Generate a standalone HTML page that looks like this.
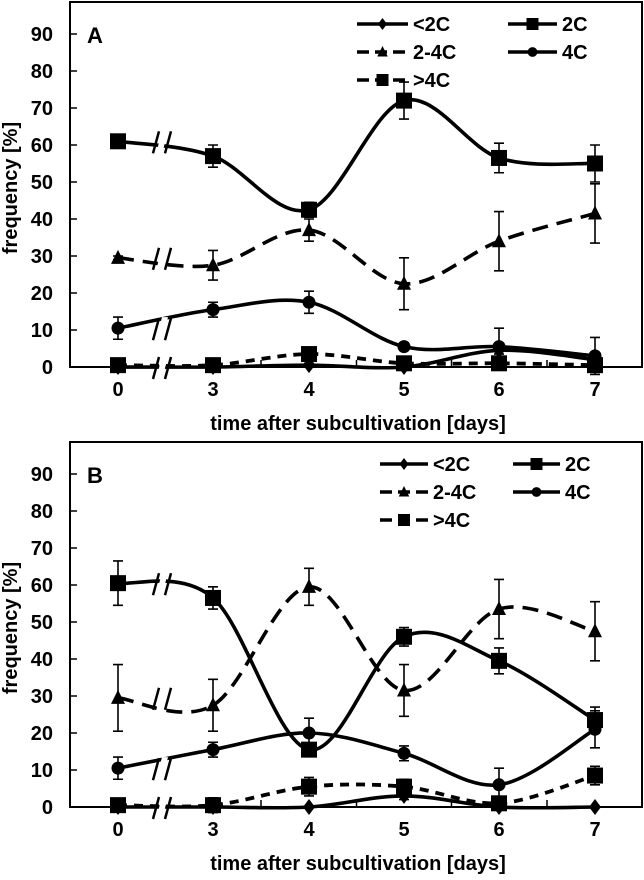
<!DOCTYPE html>
<html><head><meta charset="utf-8"><style>
body{margin:0;background:#fff;}
svg{display:block;font-family:"Liberation Sans",Arial,sans-serif;font-weight:bold;}
</style></head><body>
<svg id="chart" width="644" height="880" viewBox="0 0 644 880"></svg>
<script>
const days = [0,3,4,5,6,7];
const xTickLabels = ["0","3","4","5","6","7"];
const yTickLabels = [0,10,20,30,40,50,60,70,80,90];
const seriesNames = ["<2C","2C","2-4C","4C",">4C"];
// Panel A
const aLt2C = [0,0,0.5,0,4.5,2];
const aLt2CErr = [0,0,0.5,0.5,1,1];
const a2C = [61,57,42.5,72,56.5,55];
const a2CErr = [1.5,3,2,5,4,5];
const a24C = [29.5,27.5,37,22.5,34,41.5];
const a24CErr = [0.5,4,3,7,8,8];
const a4C = [10.5,15.5,17.5,5.5,5.5,3];
const a4CErr = [3,2,3,1,5,5];
const aGt4C = [0.5,0.5,3.5,1,1,0.5];
const aGt4CErr = [0,0,1,1,1,1];
// Panel B
const bLt2C = [0,0,0,3,0,0];
const bLt2CErr = [0,0,0,1,0,0];
const b2C = [60.5,56.5,15.5,46,39.5,23.5];
const b2CErr = [6,3,1,2.5,3.5,3.5];
const b24C = [29.5,27.5,59.5,31.5,53.5,47.5];
const b24CErr = [9,7,5,7,8,8];
const b4C = [10.5,15.5,20,14.5,6,21];
const b4CErr = [3,2,4,2,4.5,5];
const bGt4C = [0.5,0.5,5.5,5.5,1,8.5];
const bGt4CErr = [0,2,2.5,2,1,2.5];

const svg = document.getElementById('chart');
const NS = 'http://www.w3.org/2000/svg';
function mk(tag, attrs, parent){
  const e = document.createElementNS(NS, tag);
  for (const k in attrs) e.setAttribute(k, attrs[k]);
  (parent||svg).appendChild(e);
  return e;
}
const xPos = [118,213,309,404,499,595];
function xScale(i){ return xPos[i]; }

function panel(top, letter, data, legendCols){
  const zeroY = top + 367;
  const unit = 3.7;
  const y = v => zeroY - v*unit;
  const g = mk('g', {});
  
  
  const fr = mk('rect', {x:70, y:top+2, width:572, height:zeroY-top-2, fill:'none', stroke:'#000', 'stroke-width':2}, g);
  
  
  yTickLabels.forEach(v => {
    mk('line', {x1:70, x2:77, y1:y(v), y2:y(v), stroke:'#000', 'stroke-width':1.5}, g);
    const t = mk('text', {x:53, y:y(v)+7, 'text-anchor':'end', 'font-size':20}, g);
    t.textContent = v;
    
    
  });
  for (let i=0;i<days.length;i++){
    if (i>0 && i<days.length-1){
      const mx = (xScale(i)+xScale(i+1))/2;
      mk('line', {x1:mx, x2:mx, y1:zeroY, y2:zeroY-7, stroke:'#000', 'stroke-width':1.5}, g);
    }
    const t = mk('text', {x:xScale(i), y:zeroY+29, 'text-anchor':'middle', 'font-size':20}, g);
    t.textContent = xTickLabels[i];
    
    
  }
  const lt = mk('text', {x:87, y:top+43, 'font-size':22}, g);
  lt.textContent = letter;
  
  
  const xt = mk('text', {x:358, y:zeroY+63, 'text-anchor':'middle', 'font-size':20}, g);
  xt.textContent = 'time after subcultivation [days]';
  
  
  const yt = mk('text', {x:0, y:0, 'text-anchor':'middle', 'font-size':20, transform:`translate(17,${top+188}) rotate(-90)`}, g);
  yt.textContent = 'frequency [%]';
  
  

  const styles = [
    {m:'diamond', dash:''},
    {m:'square', dash:''},
    {m:'triangle', dash:'16,9'},
    {m:'circle', dash:''},
    {m:'square', dash:'9,7'}
  ];
  function marker(type, cx, cy, parent, s){
    s = s||1;
    if (type==='square') return mk('rect', {x:cx-8*s, y:cy-8*s, width:16*s, height:16*s, fill:'#000'}, parent);
    if (type==='circle') return mk('circle', {cx:cx, cy:cy, r:6.5*s, fill:'#000'}, parent);
    if (type==='triangle') return mk('polygon', {points:`${cx},${cy-8*s} ${cx+7*s},${cy+6*s} ${cx-7*s},${cy+6*s}`, fill:'#000'}, parent);
    return mk('polygon', {points:`${cx},${cy-8*s} ${cx+6*s},${cy} ${cx},${cy+8*s} ${cx-6*s},${cy}`, fill:'#000'}, parent);
  }
  function spline(pts){
    let d = `M${pts[0][0]},${pts[0][1]}`;
    for (let i=0;i<pts.length-1;i++){
      const p0 = pts[i-1]||pts[i], p1 = pts[i], p2 = pts[i+1], p3 = pts[i+2]||pts[i+1];
      const t = 1/3;
      const c1 = [p1[0]+(p2[0]-p0[0])*t/2, p1[1]+(p2[1]-p0[1])*t/2];
      const c2 = [p2[0]-(p3[0]-p1[0])*t/2, p2[1]-(p3[1]-p1[1])*t/2];
      d += ` C${c1[0]},${c1[1]} ${c2[0]},${c2[1]} ${p2[0]},${p2[1]}`;
    }
    return d;
  }
  const order = [4,0,3,2,1];
  order.forEach(si => {
    const vals = data[si][0], errs = data[si][1];
    const sg = mk('g', {}, g);
    
    
    const pts = vals.map((v,i)=>[xScale(i), y(v)]);
    const p = mk('path', {d:spline(pts), fill:'none', stroke:'#000', 'stroke-width':si===4?3.8:3.6, 'stroke-dasharray':styles[si].dash}, sg);
    
    
    vals.forEach((v,i)=>{
      const e = errs[i];
      if (e>0.3){
        const cx = xScale(i);
        mk('path', {d:`M${cx},${y(v+e)}V${y(v-e)}M${cx-5},${y(v+e)}H${cx+5}M${cx-5},${y(v-e)}H${cx+5}`, stroke:'#000', 'stroke-width':1.6, fill:'none'}, sg);
      }
      const m = marker(styles[si].m, xScale(i), y(v), sg);
      
      
    });
  });
  const bx = 160;
  const br = mk('g', {}, g);
  
  
  [data[1][0][0], data[2][0][0], data[3][0][0], 0].forEach(v=>{
    const yy = y(v) + 1;
    mk('polygon', {points:`${bx-4},${yy+12} ${bx+2},${yy-12} ${bx+8},${yy-12} ${bx+2},${yy+12}`, fill:'#fff'}, br);
    mk('line', {x1:bx-7, y1:yy+11, x2:bx-1, y2:yy-11, stroke:'#000', 'stroke-width':2.5}, br);
    mk('line', {x1:bx+5, y1:yy+11, x2:bx+11, y2:yy-11, stroke:'#000', 'stroke-width':2.5}, br);
  });
  const rows = [[0,1],[2,3],[4]];
  const lg = mk('g', {}, g);
  
  
  rows.forEach((r,ri)=>{
    r.forEach((si,ci)=>{
      const col = legendCols[ci];
      const ly = top + 24 + ri*28;
      const eg = mk('g', {}, lg);
      
      
      mk('line', {x1:col[0], x2:col[1], y1:ly, y2:ly, stroke:'#000', 'stroke-width':3.6, 'stroke-dasharray':styles[si].dash?'12,6':''}, eg);
      marker(styles[si].m, (col[0]+col[1])/2, ly, eg, 0.75);
      const t = mk('text', {x:col[1]+5, y:ly+7, 'font-size':20}, eg);
      t.textContent = seriesNames[si];
    });
  });
}
panel(0, 'A', [[aLt2C,aLt2CErr],[a2C,a2CErr],[a24C,a24CErr],[a4C,a4CErr],[aGt4C,aGt4CErr]], [[357,408],[508,557]]);
panel(440, 'B', [[bLt2C,bLt2CErr],[b2C,b2CErr],[b24C,b24CErr],[b4C,b4CErr],[bGt4C,bGt4CErr]], [[380,428],[513,560]]);
</script>
</body></html>
